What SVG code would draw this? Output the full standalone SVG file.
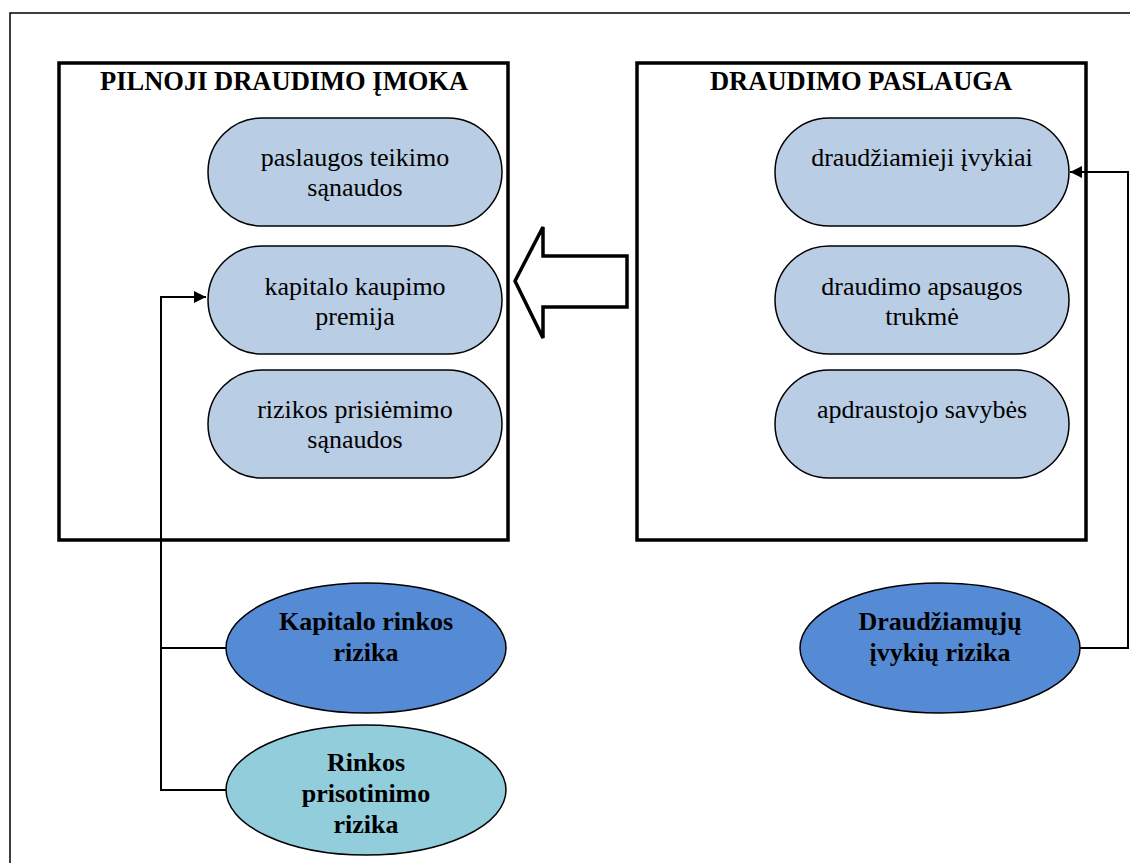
<svg xmlns="http://www.w3.org/2000/svg" width="1130" height="863" viewBox="0 0 1130 863">
<style>
.frame{fill:none;stroke:#000;stroke-width:1.5}
.box{fill:none;stroke:#000;stroke-width:3.5}
text{font-family:"Liberation Serif","Times New Roman",serif;text-anchor:middle;fill:#000;font-size:26px}
.title{font-weight:bold;font-size:26.5px}
.pill{fill:#B9CDE5;stroke:#000;stroke-width:1.5}
.et{font-weight:bold}
.conn{fill:none;stroke:#000;stroke-width:2}
</style>
<defs>
<marker id="ah2" viewBox="0 0 10 10" refX="10" refY="5" markerWidth="12" markerHeight="12" markerUnits="userSpaceOnUse" orient="auto"><path d="M0,0 L10,5 L0,10 z" fill="#000"/></marker>
</defs>
<rect class="frame" x="10" y="13" width="1130" height="870"/>
<g id="connectors">
<polyline class="conn" points="227,790 161,790 161,297 206,297" marker-end="url(#ah2)"/>
<line class="conn" x1="161" y1="648" x2="227" y2="648"/>
<polyline class="conn" points="1080,648 1128,648 1128,172 1070,172" marker-end="url(#ah2)"/>
<polygon id="bigArrow" points="515,281 543,227 543,256 627,256 627,307 543,307 543,338" fill="#fff" stroke="#000" stroke-width="3.5" stroke-linejoin="miter"/>
</g>
<g id="box-left">
<rect class="box" x="59" y="63" width="449" height="477"/>
<text class="title" x="284" y="90">PILNOJI DRAUDIMO ĮMOKA</text>
</g>
<g id="box-right">
<rect class="box" x="637" y="63" width="449" height="477"/>
<text class="title" x="861" y="90">DRAUDIMO PASLAUGA</text>
</g>
<g id="pill-l1"><rect class="pill" x="208" y="118" width="294" height="108" rx="54"/><text x="355" y="166">paslaugos teikimo</text><text x="355" y="196">sąnaudos</text></g>
<g id="pill-l2"><rect class="pill" x="208" y="246" width="294" height="108" rx="54"/><text x="355" y="295">kapitalo kaupimo</text><text x="355" y="325">premija</text></g>
<g id="pill-l3"><rect class="pill" x="208" y="370" width="294" height="108" rx="54"/><text x="355" y="418">rizikos prisiėmimo</text><text x="355" y="448">sąnaudos</text></g>
<g id="pill-r1"><rect class="pill" x="775" y="118" width="294" height="108" rx="54"/><text x="922" y="166">draudžiamieji įvykiai</text></g>
<g id="pill-r2"><rect class="pill" x="775" y="246" width="294" height="108" rx="54"/><text x="922" y="295">draudimo apsaugos</text><text x="922" y="325">trukmė</text></g>
<g id="pill-r3"><rect class="pill" x="775" y="370" width="294" height="108" rx="54"/><text x="922" y="418">apdraustojo savybės</text></g>
<g id="ell-kapitalo"><ellipse cx="366" cy="648" rx="140" ry="65" fill="#558BD4" stroke="#000" stroke-width="1.5"/><text class="et" x="366" y="630">Kapitalo rinkos</text><text class="et" x="366" y="661">rizika</text></g>
<g id="ell-rinkos"><ellipse cx="366" cy="790" rx="140" ry="65" fill="#92CDDC" stroke="#000" stroke-width="1.5"/><text class="et" x="366" y="771">Rinkos</text><text class="et" x="366" y="802">prisotinimo</text><text class="et" x="366" y="833">rizika</text></g>
<g id="ell-draud"><ellipse cx="940" cy="648" rx="140" ry="65" fill="#558BD4" stroke="#000" stroke-width="1.5"/><text class="et" x="940" y="630">Draudžiamųjų</text><text class="et" x="940" y="661">įvykių rizika</text></g>
</svg>
